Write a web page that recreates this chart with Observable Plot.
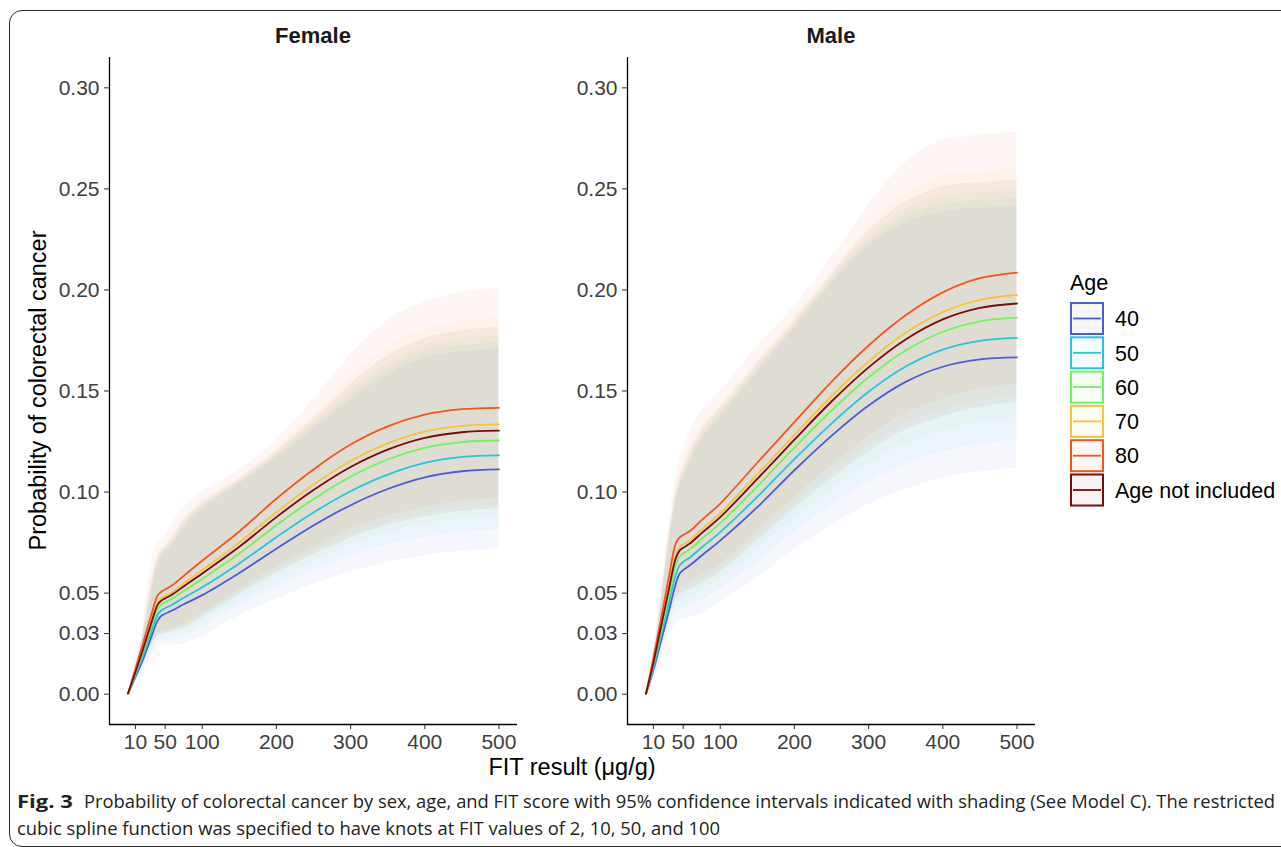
<!DOCTYPE html>
<html><head><meta charset="utf-8">
<script src="https://cdn.jsdelivr.net/npm/d3@7"></script>
<script src="https://cdn.jsdelivr.net/npm/@observablehq/plot@0.6"></script>
<style>
html,body{margin:0;padding:0;background:#fff;}
#page{position:relative;width:1281px;height:847px;overflow:hidden;font-family:"Liberation Sans",Arial,sans-serif;}
#box{position:absolute;left:9px;top:10px;width:1300px;height:837px;border:1.3px solid #2a2a2a;border-radius:13px;box-sizing:border-box;}
.panel{position:absolute;top:0;}
#overlay{position:absolute;left:0;top:0;}
</style></head>
<body>
<div id="page">
  <div id="box"></div>
  <div id="female" class="panel" style="left:0px"></div>
  <div id="male" class="panel" style="left:518px"></div>
  <svg id="overlay" width="1281" height="847"></svg>
</div>
<script>
// ---------- data ----------
const fitValues = [0,10,20,30,40,45,50,60,75,100,150,200,250,300,350,400,450,500];
const ageGroups = ["40","50","60","70","80","Age not included"];
const ageColors = ["#4a5cd6","#25c6d9","#6ff55a","#f5c43d","#f1561f","#7b0b0b"];
const panelTitles = ["Female","Male"];
const xTicks = [10,50,100,200,300,400,500];
const yTicks = [0,0.03,0.05,0.10,0.15,0.20,0.25,0.30];
const xDomain = [-25,525];
const yDomain = [-0.015,0.315];

// Female: estimates / lower / upper, one row per age group (order of ageGroups)
const femaleEst = [
 [0.0003,0.0085,0.017,0.027,0.0365,0.0388,0.0398,0.0415,0.0445,0.049,0.060,0.072,0.0835,0.0935,0.1015,0.1073,0.1103,0.1112],
 [0.0003,0.0094,0.0188,0.0294,0.0394,0.0415,0.0426,0.0444,0.0477,0.0529,0.0647,0.0777,0.0899,0.1004,0.1086,0.1144,0.1174,0.1182],
 [0.0003,0.0104,0.0208,0.0319,0.0423,0.0444,0.0454,0.0474,0.0511,0.0570,0.0696,0.0836,0.0965,0.1076,0.1161,0.1219,0.1247,0.1255],
 [0.0003,0.0114,0.0228,0.0347,0.0456,0.0475,0.0486,0.0506,0.0547,0.0614,0.0750,0.0900,0.1037,0.1154,0.1241,0.1299,0.1327,0.1335],
 [0.0003,0.0125,0.025,0.0375,0.0489,0.0507,0.0518,0.054,0.0585,0.066,0.0805,0.0967,0.1112,0.1235,0.1325,0.1383,0.1410,0.1417],
 [0.0003,0.011,0.022,0.0336,0.0443,0.0463,0.0474,0.0494,0.0533,0.0597,0.0729,0.0876,0.1010,0.1124,0.1210,0.1268,0.1296,0.1304]
];
const femaleLo = [
 [0.0002,0.005,0.011,0.018,0.0245,0.0245,0.0243,0.0242,0.025,0.0285,0.039,0.047,0.0545,0.0605,0.0653,0.0686,0.0708,0.072],
 [0.0002,0.0061,0.0129,0.0203,0.0266,0.027,0.027,0.0275,0.0288,0.033,0.0439,0.0531,0.0613,0.0685,0.0739,0.0777,0.0802,0.0814],
 [0.0002,0.007,0.0143,0.0219,0.0281,0.0287,0.029,0.0298,0.0315,0.0362,0.0475,0.0574,0.0661,0.0742,0.0801,0.0841,0.0869,0.0881],
 [0.0002,0.0076,0.0154,0.0233,0.0293,0.0302,0.0306,0.0318,0.0338,0.039,0.0504,0.0611,0.0703,0.079,0.0853,0.0896,0.0925,0.0937],
 [0.0002,0.008,0.016,0.024,0.030,0.031,0.0315,0.0328,0.035,0.0404,0.052,0.063,0.0724,0.0815,0.088,0.0925,0.0955,0.0967],
 [0.0002,0.0074,0.015,0.0228,0.0289,0.0297,0.0301,0.0311,0.033,0.038,0.0494,0.0598,0.0688,0.0773,0.0835,0.0877,0.0906,0.0918]
];
const femaleHi = [
 [0.0005,0.013,0.028,0.046,0.064,0.068,0.070,0.074,0.082,0.0915,0.104,0.117,0.131,0.1455,0.158,0.1665,0.1695,0.171],
 [0.0005,0.0133,0.0285,0.0477,0.0651,0.0688,0.0708,0.0751,0.0831,0.0924,0.1047,0.1179,0.1325,0.1478,0.1607,0.1693,0.1725,0.174],
 [0.0005,0.0137,0.0291,0.0497,0.0663,0.0698,0.0718,0.0764,0.0843,0.0934,0.1055,0.119,0.1343,0.1505,0.1639,0.1726,0.176,0.1776],
 [0.0005,0.0145,0.0305,0.0545,0.0693,0.072,0.074,0.0795,0.0873,0.0958,0.1075,0.1215,0.1385,0.1568,0.1715,0.1803,0.1843,0.186],
 [0.0005,0.016,0.033,0.063,0.0745,0.076,0.078,0.085,0.0925,0.100,0.111,0.126,0.146,0.168,0.185,0.194,0.199,0.201],
 [0.0005,0.014,0.0298,0.052,0.0677,0.0708,0.0728,0.0779,0.0857,0.0945,0.1065,0.1202,0.1363,0.1534,0.1675,0.1761,0.1798,0.1815]
];

// Male
const maleEst = [
 [0.0003,0.012,0.026,0.040,0.0545,0.0595,0.0614,0.064,0.0686,0.076,0.0925,0.1108,0.1278,0.1428,0.1545,0.1620,0.1656,0.1666],
 [0.0003,0.0133,0.0285,0.0438,0.0591,0.0636,0.0654,0.0679,0.0726,0.0802,0.0976,0.1163,0.1339,0.1496,0.1621,0.1705,0.1748,0.1763],
 [0.0003,0.0147,0.0312,0.0478,0.0639,0.068,0.0695,0.072,0.0768,0.0846,0.1028,0.122,0.1403,0.1568,0.1700,0.1793,0.1845,0.1863],
 [0.0003,0.0163,0.0341,0.0521,0.0692,0.0727,0.0741,0.0765,0.0815,0.0895,0.1087,0.1283,0.1474,0.1646,0.1788,0.1890,0.1951,0.1975],
 [0.0003,0.0178,0.037,0.0565,0.0745,0.0775,0.0787,0.081,0.0861,0.0943,0.1145,0.1346,0.1545,0.1725,0.1875,0.1988,0.2058,0.2086],
 [0.0003,0.0157,0.033,0.0505,0.0672,0.0709,0.0724,0.0748,0.0797,0.0876,0.1065,0.1259,0.1448,0.1617,0.1755,0.1854,0.1911,0.1933]
];
const maleLo = [
 [0.0002,0.006,0.016,0.028,0.035,0.0365,0.0372,0.0382,0.04,0.046,0.0575,0.072,0.0835,0.094,0.1015,0.107,0.11,0.112],
 [0.0002,0.008,0.019,0.0313,0.04,0.0416,0.0427,0.0441,0.0463,0.0521,0.0653,0.0804,0.0932,0.1051,0.1139,0.1199,0.1235,0.1257],
 [0.0002,0.0096,0.0214,0.034,0.044,0.0458,0.0473,0.0489,0.0514,0.0571,0.0716,0.0873,0.1012,0.1141,0.124,0.1304,0.1346,0.137],
 [0.0002,0.0112,0.0237,0.0366,0.0479,0.0498,0.0516,0.0535,0.0563,0.0619,0.0777,0.0939,0.1089,0.1228,0.1338,0.1405,0.1453,0.1478],
 [0.0002,0.012,0.025,0.038,0.05,0.052,0.054,0.056,0.059,0.0645,0.081,0.0975,0.113,0.1275,0.139,0.146,0.151,0.1536],
 [0.0002,0.0107,0.023,0.0358,0.0467,0.0486,0.0503,0.0521,0.0548,0.0604,0.0758,0.0919,0.1065,0.1201,0.1308,0.1374,0.142,0.1444]
];
const maleHi = [
 [0.0005,0.018,0.044,0.072,0.095,0.102,0.107,0.115,0.126,0.137,0.159,0.181,0.203,0.222,0.233,0.2387,0.2405,0.2414],
 [0.0005,0.0186,0.0446,0.0731,0.0963,0.1034,0.1084,0.1166,0.1274,0.1383,0.1603,0.1821,0.2043,0.224,0.236,0.2422,0.2441,0.2451],
 [0.0005,0.0193,0.0453,0.0744,0.0979,0.1051,0.1101,0.1185,0.1291,0.1399,0.1619,0.1834,0.2059,0.2264,0.2396,0.2465,0.2485,0.2495],
 [0.0005,0.021,0.047,0.0775,0.1015,0.109,0.114,0.123,0.133,0.1435,0.1655,0.1865,0.2095,0.232,0.248,0.2564,0.2586,0.2597],
 [0.0005,0.024,0.05,0.083,0.108,0.116,0.121,0.131,0.14,0.15,0.172,0.192,0.216,0.242,0.263,0.274,0.2767,0.278],
 [0.0005,0.0201,0.0461,0.0759,0.0996,0.1069,0.1119,0.1206,0.1309,0.1416,0.1636,0.1849,0.2076,0.229,0.2435,0.2511,0.2532,0.2542]
];

// ---------- panels ----------
const FONT = '"Liberation Sans", Arial, Helvetica, sans-serif';
function makePanel(est, lo, hi) {
  const marks = [];
  ageGroups.forEach((age, i) => {
    const rows = fitValues.map((f, j) => ({fit: f, lo: lo[i][j], hi: hi[i][j], age}));
    marks.push(Plot.areaY(rows, {x: "fit", y1: "lo", y2: "hi", fill: "age", fillOpacity: 0.05, curve: "catmull-rom"}));
  });
  ageGroups.forEach((age, i) => {
    const rows = fitValues.map((f, j) => ({fit: f, p: est[i][j], age}));
    marks.push(Plot.line(rows, {x: "fit", y: "p", stroke: "age", strokeWidth: 1.8, curve: "catmull-rom"}));
  });
  marks.push(Plot.axisY({ticks: yTicks, tickFormat: ".2f", tickSize: 5, tickPadding: 5, label: null, color: "#404040", strokeWidth: 1.1}));
  marks.push(Plot.axisX({ticks: xTicks, tickSize: 5, tickPadding: 5, label: null, color: "#404040", strokeWidth: 1.1}));
  marks.push(Plot.ruleX([xDomain[0]], {stroke: "#000", strokeWidth: 1.3}));
  marks.push(Plot.ruleY([yDomain[0]], {stroke: "#000", strokeWidth: 1.3}));
  return Plot.plot({
    width: 530, height: 780,
    marginLeft: 109, marginRight: 13, marginTop: 57, marginBottom: 56,
    x: {domain: xDomain},
    y: {domain: yDomain},
    color: {domain: ageGroups, range: ageColors},
    style: {fontFamily: FONT, fontSize: "21px", background: "transparent", overflow: "visible"},
    marks
  });
}
document.getElementById("female").appendChild(makePanel(femaleEst, femaleLo, femaleHi));
document.getElementById("male").appendChild(makePanel(maleEst, maleLo, maleHi));

// ---------- overlay texts, legend, caption ----------
const svg = d3.select("#overlay");
const panelCenters = [313, 831];
panelTitles.forEach((t, i) => {
  svg.append("text").attr("x", panelCenters[i]).attr("y", 43).attr("text-anchor", "middle")
    .attr("font-family", FONT).attr("font-weight", "bold").attr("font-size", 22).attr("fill", "#1a1a1a").text(t);
});
svg.append("text").attr("transform", "translate(46,390.5) rotate(-90)").attr("text-anchor", "middle")
  .attr("font-family", FONT).attr("font-size", 23.5).attr("fill", "#000").text("Probability of colorectal cancer");
svg.append("text").attr("x", 572).attr("y", 775).attr("text-anchor", "middle")
  .attr("font-family", FONT).attr("font-size", 23.5).attr("fill", "#000").text("FIT result (μg/g)");

// legend
svg.append("text").attr("x", 1070).attr("y", 290).attr("font-family", FONT).attr("font-size", 21.5).attr("fill", "#000").text("Age");
ageGroups.forEach((age, i) => {
  const y0 = 303 + i * 34.3;
  const c = ageColors[i];
  svg.append("rect").attr("x", 1071).attr("y", y0).attr("width", 32).attr("height", 31)
    .attr("fill", c).attr("fill-opacity", 0.05).attr("stroke", c).attr("stroke-width", 2);
  svg.append("line").attr("x1", 1073).attr("x2", 1101).attr("y1", y0 + 15.5).attr("y2", y0 + 15.5)
    .attr("stroke", c).attr("stroke-width", 1.8);
  svg.append("text").attr("x", 1115).attr("y", y0 + 15.5 + 7.7).attr("font-family", FONT)
    .attr("font-size", 21.5).attr("fill", "#000").text(age);
});

// caption
const CAP = '"Open Sans", "Noto Sans", sans-serif';
svg.append("text").attr("x", 17).attr("y", 808).attr("font-family", CAP).attr("font-weight", "bold")
  .attr("font-size", 18).attr("fill", "#231f20").attr("textLength", 56).attr("lengthAdjust", "spacingAndGlyphs").text("Fig. 3");
svg.append("text").attr("x", 84).attr("y", 808).attr("font-family", CAP)
  .attr("font-size", 18).attr("fill", "#231f20").attr("textLength", 1191).attr("lengthAdjust", "spacingAndGlyphs")
  .text("Probability of colorectal cancer by sex, age, and FIT score with 95% confidence intervals indicated with shading (See Model C). The restricted");
svg.append("text").attr("x", 17).attr("y", 835).attr("font-family", CAP)
  .attr("font-size", 18).attr("fill", "#231f20").attr("textLength", 703).attr("lengthAdjust", "spacingAndGlyphs")
  .text("cubic spline function was specified to have knots at FIT values of 2, 10, 50, and 100");
</script>
</body></html>
